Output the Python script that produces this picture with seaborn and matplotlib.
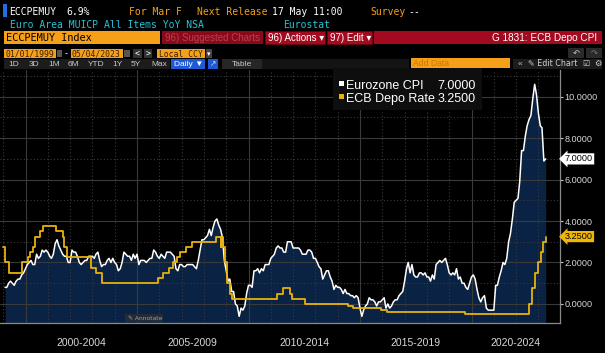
import pandas as pd
import matplotlib
matplotlib.use('Agg')
import matplotlib.pyplot as plt
import matplotlib.dates as mdates
import matplotlib.transforms as mtransforms
from matplotlib.patches import Rectangle
from matplotlib.ticker import FixedLocator, MultipleLocator, FuncFormatter
import seaborn as sns

# ==========================================
# data (monthly HICP YoY, ECB deposit facility rate changes)
# ==========================================
cpi_start = '1999-01'
cpi_values = [
    0.8, 0.8, 1.0, 1.1, 1.0, 0.9, 1.1, 1.2, 1.2, 1.4, 1.5, 1.7,   # 1999
    1.9, 2.0, 2.1, 1.9, 1.9, 2.4, 2.2, 2.3, 2.6, 2.5, 2.6, 2.5,   # 2000
    2.3, 2.2, 2.4, 2.9, 3.1, 2.8, 2.6, 2.4, 2.3, 2.3, 2.0, 2.0,   # 2001
    2.6, 2.5, 2.5, 2.3, 2.0, 1.9, 2.0, 2.1, 2.1, 2.3, 2.3, 2.3,   # 2002
    2.2, 2.4, 2.5, 2.1, 1.8, 1.9, 1.9, 2.1, 2.2, 2.0, 2.2, 2.0,   # 2003
    1.9, 1.6, 1.7, 2.0, 2.5, 2.4, 2.3, 2.3, 2.1, 2.4, 2.2, 2.4,   # 2004
    1.9, 2.1, 2.1, 2.1, 2.0, 2.1, 2.2, 2.2, 2.6, 2.5, 2.3, 2.2,   # 2005
    2.4, 2.3, 2.2, 2.5, 2.5, 2.5, 2.4, 2.3, 1.7, 1.6, 1.9, 1.9,   # 2006
    1.8, 1.8, 1.9, 1.9, 1.9, 1.9, 1.8, 1.7, 2.1, 2.6, 3.1, 3.1,   # 2007
    3.2, 3.3, 3.6, 3.3, 3.7, 4.0, 4.1, 3.8, 3.6, 3.2, 2.1, 1.6,   # 2008
    1.1, 1.2, 0.6, 0.6, 0.0, -0.1, -0.6, -0.2, -0.3, -0.1, 0.5, 0.9,  # 2009
    0.9, 0.8, 1.6, 1.6, 1.7, 1.5, 1.7, 1.6, 1.9, 1.9, 1.9, 2.2,   # 2010
    2.3, 2.4, 2.7, 2.8, 2.7, 2.7, 2.5, 2.5, 3.0, 3.0, 3.0, 2.7,   # 2011
    2.7, 2.7, 2.7, 2.6, 2.4, 2.4, 2.4, 2.6, 2.6, 2.5, 2.2, 2.2,   # 2012
    2.0, 1.8, 1.7, 1.2, 1.4, 1.6, 1.6, 1.3, 1.1, 0.7, 0.9, 0.8,   # 2013
    0.8, 0.7, 0.5, 0.7, 0.5, 0.5, 0.4, 0.4, 0.3, 0.4, 0.3, -0.2,  # 2014
    -0.6, -0.3, -0.1, 0.0, 0.3, 0.2, 0.2, 0.1, -0.1, 0.1, 0.1, 0.2,  # 2015
    0.3, -0.2, 0.0, -0.2, -0.1, 0.1, 0.2, 0.2, 0.4, 0.5, 0.6, 1.1,  # 2016
    1.7, 2.0, 1.5, 1.9, 1.4, 1.3, 1.3, 1.5, 1.5, 1.4, 1.5, 1.3,   # 2017
    1.3, 1.1, 1.4, 1.2, 1.9, 2.0, 2.1, 2.0, 2.1, 2.2, 1.9, 1.5,   # 2018
    1.4, 1.5, 1.4, 1.7, 1.2, 1.3, 1.0, 1.0, 0.8, 0.7, 1.0, 1.3,   # 2019
    1.4, 1.2, 0.7, 0.3, 0.1, 0.3, 0.4, -0.2, -0.3, -0.3, -0.3, -0.3,  # 2020
    0.9, 0.9, 1.3, 1.6, 2.0, 1.9, 2.2, 3.0, 3.4, 4.1, 4.9, 5.0,   # 2021
    5.1, 5.9, 7.4, 7.4, 8.1, 8.6, 8.9, 9.1, 9.9, 10.6, 10.1, 9.2,  # 2022
    8.6, 8.5, 6.9, 7.0,                                           # 2023
]

depo_dates = [
    '1999-01-01', '1999-01-22', '1999-04-09', '1999-11-05',
    '2000-02-04', '2000-03-17', '2000-04-28', '2000-06-09', '2000-09-01', '2000-10-06',
    '2001-05-11', '2001-08-31', '2001-09-18', '2001-11-09',
    '2002-12-06', '2003-03-07', '2003-06-06',
    '2005-12-06', '2006-03-08', '2006-06-15', '2006-08-09', '2006-10-11', '2006-12-13',
    '2007-03-14', '2007-06-13',
    '2008-07-09', '2008-10-08', '2008-10-09', '2008-11-12', '2008-12-10',
    '2009-01-21', '2009-03-11', '2009-04-08',
    '2011-04-13', '2011-07-13', '2011-11-09', '2011-12-14', '2012-07-11',
    '2014-06-11', '2014-09-10', '2015-12-09', '2016-03-16', '2019-09-18',
    '2022-07-27', '2022-09-14', '2022-11-02', '2022-12-21',
    '2023-02-08', '2023-03-22', '2023-05-04',
]
depo_rates = [
    2.75, 2.00, 1.50, 2.00,
    2.25, 2.50, 2.75, 3.25, 3.50, 3.75,
    3.50, 3.25, 2.75, 2.25,
    1.75, 1.50, 1.00,
    1.25, 1.50, 1.75, 2.00, 2.25, 2.50,
    2.75, 3.00,
    3.25, 2.75, 3.25, 2.75, 2.00,
    1.00, 0.50, 0.25,
    0.50, 0.75, 0.50, 0.25, 0.00,
    -0.10, -0.20, -0.30, -0.40, -0.50,
    0.00, 0.75, 1.50, 2.00,
    2.50, 3.00, 3.25,
]

series_names = ['Eurozone CPI', 'ECB Depo Rate']
period_labels = ['2000-2004', '2005-2009', '2010-2014', '2015-2019', '2020-2024']
period_starts = ['2000-01-01', '2005-01-01', '2010-01-01', '2015-01-01', '2020-01-01']
period_ends = ['2005-01-01', '2010-01-01', '2015-01-01', '2020-01-01', '2025-01-01']
ytick_values = [0, 2, 4, 6, 8, 10]

# ==========================================
# style
# ==========================================
W, H = 605, 353
NAVY = '#0a2243'
GOLD = '#e8b20c'
AMBER = '#f6a01a'
RED = '#a30a1f'
CYAN = '#27c3d6'
BLUE = '#1e5ad6'
GRID = '#3a3a3a'

sns.set_style('dark', {'axes.facecolor': 'black', 'figure.facecolor': 'black'})
SANS = ['Liberation Sans', 'DejaVu Sans']
MONO = ['DejaVu Sans Mono', 'DejaVu Sans']
plt.rcParams['font.family'] = SANS

fig = plt.figure(figsize=(W / 100, H / 100), dpi=100, facecolor='black')


def box(x0, y0, x1, y1, fc, ec='none', lw=0):
    fig.add_artist(Rectangle((x0 / W, 1 - y1 / H), (x1 - x0) / W, (y1 - y0) / H,
                             transform=fig.transFigure, facecolor=fc, edgecolor=ec, linewidth=lw))


def txt(x, y, s, color='white', size=7, ha='left', family=MONO, va='baseline', **kw):
    fig.text(x / W, 1 - y / H, s, color=color, fontsize=size, ha=ha, va=va, family=family, **kw)


# ==========================================
# Bloomberg header
# ==========================================
box(3, 4, 7, 16.5, '#1f6fe0')
txt(9, 15, 'ECCPEMUY')
txt(66, 15, '6.9%')
txt(129, 15, 'For Mar F', color=AMBER)
txt(197, 15, 'Next Release', color=AMBER)
txt(272, 15, '17 May 11:00')
txt(370, 15, 'Survey', color=AMBER)
txt(408, 15, '--')
txt(10, 28.3, 'Euro Area MUICP All Items YoY NSA', color=CYAN)
txt(283, 28.3, 'Eurostat', color=CYAN)

box(4, 30.5, 160, 43.5, AMBER)
txt(6, 41.2, 'ECCPEMUY Index', color='black', size=7.4)
box(162, 30.5, 263, 43.5, '#8a0a1a')
txt(165, 41, '96) Suggested Charts', color='#b8404e', size=7, family=SANS)
box(265, 30.5, 325, 43.5, RED, ec='#6a0010', lw=0.6)
txt(268, 41, '96) Actions \u25be', size=7, family=SANS)
box(327, 30.5, 372, 43.5, RED, ec='#6a0010', lw=0.6)
txt(330, 41, '97) Edit \u25be', size=7, family=SANS)
box(374, 30.5, 602, 43.5, RED)
txt(597, 41, 'G 1831: ECB Depo CPI', size=7.2, ha='right', family=SANS)

box(4, 48.5, 56, 58, AMBER)
txt(5, 56.8, '01/01/1999', color='#3a2000', size=5.9)
box(57, 50, 62, 57, '#555555')
txt(64, 56, '-', size=6)
box(71, 48.5, 123, 58, AMBER)
txt(72, 56.8, '05/04/2023', color='#3a2000', size=5.9)
box(124, 50, 130, 57, '#555555')
box(133, 49, 142, 58, '#333333')
txt(137.5, 56.5, '<', size=6, ha='center')
box(144, 49, 152, 58, '#333333')
txt(148, 56.5, '>', size=6, ha='center')
box(157, 48.5, 205, 58, AMBER)
txt(158.5, 56.8, 'Local CCY', color='#3a2000', size=5.8)
box(206, 49, 212, 58, '#444444')
txt(209, 56, '\u25be', size=5, ha='center', family=['DejaVu Sans'])
box(568, 48, 584, 57.5, '#2a2a2a')
txt(576, 56, '\u21b6', size=6, ha='center', family=['DejaVu Sans'], color='#cccccc')
box(586, 48, 602, 57.5, '#2a2a2a')
txt(594, 56, '\u21b7', size=6, ha='center', family=['DejaVu Sans'], color='#777777')

box(4, 58.5, 170, 68.5, '#1c1c1c')
for lab, xl in zip(['1D', '3D', '1M', '6M', 'YTD', '1Y', '5Y', 'Max'],
                   [8.5, 29, 48, 68, 88, 112, 131, 151]):
    txt(xl, 66.5, lab, color='#c8c8c8', size=6, family=SANS)
box(171, 58.5, 205, 68.5, BLUE)
txt(174, 66.5, 'Daily \u25bc', size=6, family=SANS)
box(208, 58.5, 217.5, 68.5, BLUE)
txt(212.7, 66.5, '\u2197', size=5.5, ha='center', family=['DejaVu Sans'], color='#cfe0ff')
box(222, 58.5, 262, 68.5, '#262626')
txt(232, 66.5, 'Table', color='#c8c8c8', size=6, family=SANS)
box(262, 58.5, 409, 68.5, '#141414')
box(411, 58.3, 510, 67.7, AMBER)
txt(413, 66.3, 'Add Data', color='#c87800', size=6.2, family=SANS)
box(513, 58.5, 602, 68.5, '#1c1c1c')
txt(518, 66.3, '\u00ab', color='#c8c8c8', size=6, family=SANS)
txt(528, 66.3, '\u270e Edit Chart', color='#d0d0d0', size=5.8, family=['DejaVu Sans'])
txt(582, 66.3, '\u2611', color='#d0d0d0', size=5.8, family=['DejaVu Sans'])
txt(594, 66.3, '\u2699', color='#d0d0d0', size=6, family=['DejaVu Sans'])

# ==========================================
# chart
# ==========================================
ax = fig.add_axes([0, 1 - 323 / H, 560 / W, (323 - 70) / H])
ax.set_facecolor('black')

cpi_dates = pd.date_range(cpi_start, periods=len(cpi_values), freq='ME')
depo_idx = pd.to_datetime(depo_dates)

ax.fill_between(cpi_dates, cpi_values, -5, color=NAVY, lw=0, zorder=0.4)
sns.lineplot(x=cpi_dates, y=cpi_values, ax=ax, color='white', lw=1.1, zorder=3)
sns.lineplot(x=depo_idx, y=depo_rates, ax=ax, color=GOLD, lw=1.3,
             drawstyle='steps-post', zorder=4)

x_left, x_right = pd.Timestamp('1998-11-09'), pd.Timestamp('2023-12-20')
ax.set_xlim(x_left, x_right)
ax.set_ylim(-0.92, 11.29)
ax.set_xlabel('')
ax.set_ylabel('')

ax.xaxis.set_major_locator(mdates.YearLocator(5))
ax.xaxis.set_minor_locator(mdates.YearLocator(1))
ax.yaxis.set_major_locator(FixedLocator(ytick_values))
ax.yaxis.set_minor_locator(MultipleLocator(1))
ax.yaxis.set_major_formatter(FuncFormatter(lambda v, p: f'{v:.4f}'))
ax.yaxis.tick_right()

ax.grid(which='major', color=GRID, lw=0.8, ls='-')
ax.grid(which='minor', color=GRID, lw=0.8, ls=(0, (1, 2)))

ax.tick_params(axis='x', which='major', direction='out', length=22, width=0.9,
               color='#3a3a3a', labelbottom=False)
ax.tick_params(axis='x', which='minor', direction='in', length=2.5, width=0.8,
               color='#c0c0c0')
ax.tick_params(axis='y', which='major', direction='out', length=2.2, width=0.8,
               color='#c8c8c8', labelsize=6.6, labelcolor='#d6d6d6', pad=1.2,
               right=True, left=False, labelright=True, labelleft=False)
ax.tick_params(axis='y', which='minor', length=0)

for s in ['top', 'left']:
    ax.spines[s].set_visible(False)
for s in ['bottom', 'right']:
    ax.spines[s].set_color('#8a8a8a')
    ax.spines[s].set_linewidth(0.9)

# period labels centred on the visible part of each 5-year span
trans = mtransforms.blended_transform_factory(ax.transData, fig.transFigure)
for lab, s, e in zip(period_labels, period_starts, period_ends):
    s = pd.Timestamp(s)
    e = min(pd.Timestamp(e), x_right)
    mid = mdates.date2num(s) + (mdates.date2num(e) - mdates.date2num(s)) / 2
    ax.text(mid, 1 - 345.7 / H, lab, transform=trans, ha='center', va='baseline',
            color='#d8d8d8', fontsize=7.5)

# last value callouts
tr2 = mtransforms.blended_transform_factory(ax.transAxes, ax.transData)
ax.text(1 + 5 / 560, cpi_values[-1], f'{cpi_values[-1]:.4f}', transform=tr2,
        ha='left', va='center', fontsize=6.6, color='black', clip_on=False,
        bbox=dict(boxstyle='larrow,pad=0.12', fc='white', ec='none'))
ax.text(1 + 5 / 560, depo_rates[-1], f'{depo_rates[-1]:.4f}', transform=tr2,
        ha='left', va='center', fontsize=6.6, color='black', clip_on=False,
        bbox=dict(boxstyle='larrow,pad=0.12', fc='#f2b705', ec='none'))

# annotate button
box(125, 314, 163, 321.5, '#252b35')
txt(128, 320.3, '\u270e Annotate', color='#9aa0a8', size=4.3, family=['DejaVu Sans'])

# legend
box(333, 68.5, 482, 110, '#0e0e0e')
box(339, 80.8, 344.3, 86, 'white')
box(339, 94, 344.3, 99.3, GOLD)
txt(346.5, 89.3, series_names[0], size=9, family=SANS)
txt(476, 89.3, f'{cpi_values[-1]:.4f}', size=9, ha='right', family=SANS)
txt(346.5, 102.3, series_names[1], size=9, family=SANS)
txt(476, 102.3, f'{depo_rates[-1]:.4f}', size=9, ha='right', family=SANS)

fig.savefig('out.png', dpi=100, facecolor='black')
